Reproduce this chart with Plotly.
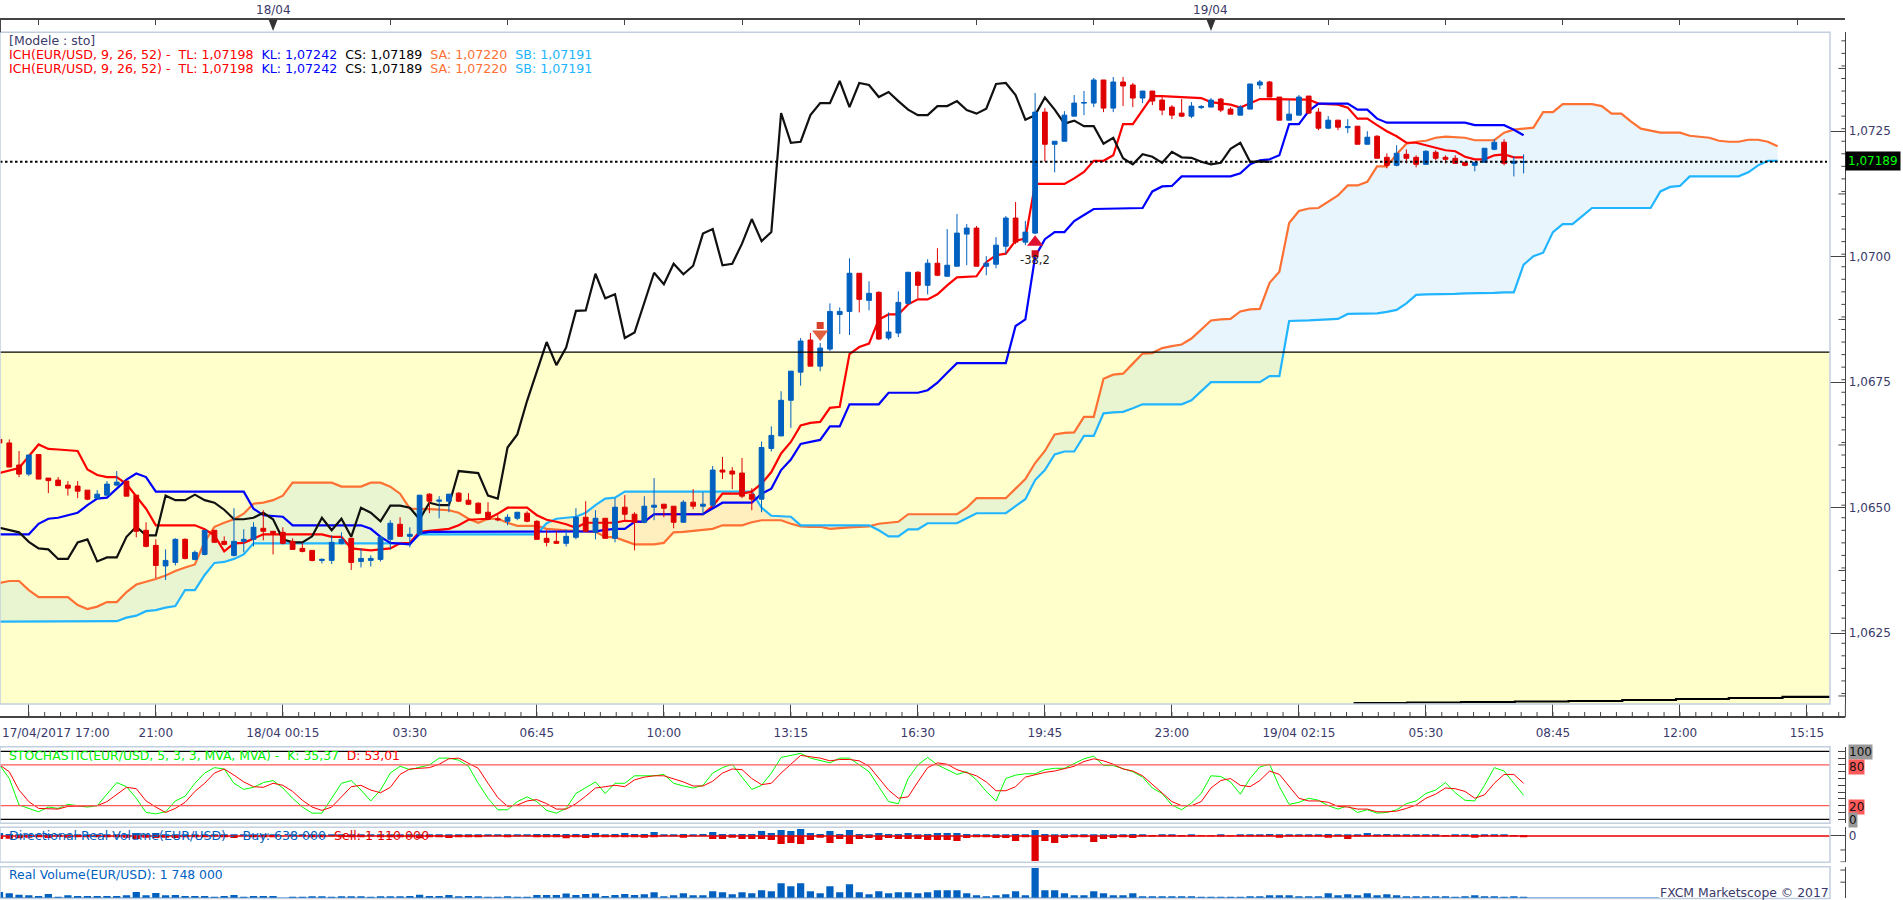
import plotly.graph_objects as go

W, H = 1903.0, 900.0
NB = "\u00a0"

# Prices are kept as pips above 1.0600
BASE = 1.06
PIP = 0.0001

open_pips = [
63.6,62.9,58.5,56.7,60.6,55.9,55.5,54.5,54.3,53.5,
51.9,52.5,54.5,55.3,52.5,45.5,42.5,38.4,39.1,43.7,
39.7,40.7,45.5,43.3,40.5,43.3,43.7,45.9,45.3,45.1,
43.3,41.9,41.5,39.5,39.5,42.9,43.9,39.3,39.5,39.7,
43.7,46.7,44.3,44.7,52.7,51.3,51.3,52.9,51.5,50.9,
49.1,47.8,47.3,47.9,48.9,47.3,43.9,43.3,42.9,44.1,
48.1,45.1,47.9,43.9,50.1,48.7,47.1,50.1,50.7,50.3,
47.1,51.1,50.3,50.5,57.5,57.3,56.9,52.7,51.7,61.8,
64.3,71.4,77.0,83.4,78.2,81.6,88.5,89.1,96.7,91.3,
92.9,83.8,84.8,90.7,96.9,94.3,98.7,96.1,98.1,104.5,
105.7,98.1,98.5,102.1,107.7,102.9,104.7,128.8,122.4,123.0,
128.0,130.6,130.6,135.2,129.6,134.8,134.2,131.6,133.0,131.2,
129.8,128.6,128.0,129.7,129.8,131.4,129.4,128.2,129.4,134.2,
134.8,131.8,127.2,128.2,132.0,128.8,125.6,127.2,125.7,126.0,
122.4,124.0,119.8,118.2,120.4,119.8,118.4,120.8,119.8,119.6,
118.8,118.2,118.8,121.4,122.8,118.6,118.8]
close_pips = [
62.9,58.1,56.7,60.5,55.7,55.4,54.4,53.9,53.3,51.7,
52.7,54.7,55.1,52.3,45.3,42.3,38.5,39.5,43.7,39.9,
41.1,45.5,43.1,42.7,43.3,43.7,46.1,45.3,44.9,42.9,
41.7,41.3,39.5,39.7,43.1,43.7,39.1,39.9,39.9,44.1,
46.9,44.3,44.7,52.5,51.3,51.5,52.7,51.3,50.7,48.9,
47.7,47.6,48.1,49.1,47.3,43.7,43.1,42.9,44.3,48.1,
45.3,47.9,43.9,50.1,48.7,47.1,50.3,50.5,49.9,47.1,
51.1,50.3,50.7,57.5,57.1,56.7,52.3,51.7,62.0,64.4,
71.4,77.2,83.2,78.2,81.8,89.1,89.1,96.7,91.5,92.7,
83.6,85.0,90.9,96.9,94.3,98.7,96.3,98.3,104.7,105.7,
98.1,98.7,102.3,107.7,102.9,104.9,128.8,122.4,123.0,128.2,
130.6,130.7,135.2,129.6,134.8,134.0,131.6,133.0,131.0,129.2,
128.2,128.0,130.0,129.9,131.2,129.2,128.4,129.8,134.4,134.8,
131.8,127.2,128.4,131.8,128.6,125.6,127.2,125.8,125.9,122.4,
123.8,119.6,118.2,120.6,119.6,118.4,121.0,119.6,119.4,118.6,
118.2,118.8,121.6,122.8,118.6,119.0,118.9]
high_pips = [
63.6,63.6,61.3,60.5,60.6,55.9,56.1,55.3,55.3,53.5,
53.5,55.3,57.3,55.3,52.5,47.1,43.7,41.7,43.9,43.9,
41.5,45.5,45.5,44.3,49.9,45.7,47.1,49.5,45.3,46.1,
43.9,42.9,41.5,39.9,44.5,45.1,43.9,41.9,40.5,44.5,
47.5,48.1,46.1,52.5,52.9,52.3,52.7,53.1,52.9,51.1,
51.1,48.5,48.7,49.1,49.3,47.5,45.5,45.3,45.7,49.9,
51.3,49.5,47.9,51.9,52.5,49.1,52.3,55.9,50.7,50.3,
51.5,53.7,53.1,58.3,60.1,58.1,59.9,53.9,63.2,66.2,
73.2,77.2,83.8,84.8,82.8,90.7,89.9,99.7,96.7,95.1,
93.1,88.9,93.1,96.9,97.1,99.5,101.7,105.5,108.5,106.5,
106.1,100.1,103.9,108.1,110.9,107.1,132.6,129.6,123.0,129.0,
132.2,133.0,135.6,135.2,135.8,135.8,134.6,133.0,133.0,131.8,
130.2,131.4,130.8,130.2,131.6,131.6,129.8,130.2,134.4,135.2,
135.0,131.8,131.2,132.2,132.0,129.6,128.0,127.2,127.4,126.0,
125.0,124.2,120.6,122.2,121.4,120.2,121.2,121.2,120.2,120.2,
118.8,118.8,121.6,123.4,123.4,120.0,120.4]
low_pips = [
62.9,58.1,56.1,56.3,55.7,52.9,54.3,52.4,51.9,51.5,
51.7,52.3,54.3,52.3,44.1,42.1,36.0,35.6,38.5,39.7,
39.5,40.5,43.1,42.5,40.3,41.1,42.3,43.5,40.7,42.7,
41.7,41.1,39.3,38.9,38.8,42.7,37.6,38.1,38.3,39.3,
41.7,44.3,42.1,44.5,48.9,47.9,49.1,51.1,50.5,48.7,
47.5,47.3,46.5,47.5,47.1,43.7,42.3,42.9,42.3,43.7,
45.3,43.7,43.9,43.1,47.5,41.5,46.9,47.5,48.1,45.9,
47.1,49.7,48.5,50.1,55.7,53.7,51.9,49.5,49.1,61.2,
64.3,65.9,74.3,78.2,77.2,81.2,84.6,84.4,88.9,89.3,
83.4,83.4,84.0,90.5,91.7,92.5,96.1,96.1,98.1,98.3,
98.1,96.3,97.7,100.5,102.5,102.3,104.5,119.0,116.8,123.0,
128.0,128.2,129.8,128.8,128.8,130.0,129.8,130.6,130.2,128.2,
127.4,127.8,127.6,129.4,129.8,128.8,128.4,128.2,129.4,133.4,
131.8,127.2,127.2,128.2,128.4,125.2,125.4,125.2,124.6,122.4,
122.4,119.6,117.6,118.0,118.6,117.8,118.4,119.2,118.6,118.6,
118.0,117.0,118.8,121.2,118.2,116.0,116.6]

tenkan_x = [0,2,4,5,6,8,9,10,11,12,13,14,15,16,20,21,22,23,24,25,26,27,33,34,35,36,38,40,41,42,43,45,46,47,48,50,51,52,54,55,56,57,58,59,60,63,64,66,67,72,73,74,76,77,78,79,80,81,82,83,84,85,86,87,88,89,90,91,92,93,94,95,96,97,98,100,101,102,103,104,105,106,109,110,111,112,113,114,115,116,117,118,119,122,123,124,126,127,128,129,134,135,137,138,139,140,141,142,143,144,145,146,147,148,149,150,151,152,153,154,155,156]
tenkan_pips = [56.9,57.9,62.6,61.7,61.6,61.3,57.6,56.5,56.1,56.1,54.7,52.3,49.8,46.5,46.5,45.7,44.5,41.3,42.9,43.0,43.9,44.7,44.7,44.2,44.2,41.9,41.5,41.9,42.9,43.0,45.2,45.5,45.8,46.5,47.6,47.8,48.8,50.0,50.0,48.5,47.6,47.2,46.7,46.0,47.0,47.0,47.4,47.2,48.7,48.7,50.3,52.8,52.8,53.2,54.8,57.1,60.8,63.1,66.4,66.9,67.1,69.9,70.1,80.6,82.0,82.7,87.5,88.5,88.5,90.5,91.5,91.5,92.5,94.3,95.9,96.1,98.9,100.3,100.6,103.2,103.6,114.5,114.5,115.6,116.9,119.1,119.1,120.2,126.4,126.4,129.3,132.0,132.0,131.8,131.6,130.8,130.3,129.7,130.5,131.4,131.3,130.5,130.3,129.7,127.5,127.5,126.2,125.0,124.0,122.7,122.7,122.2,121.7,121.2,121.0,119.9,119.4,119.4,120.2,120.4,119.8,119.8]

kijun_x = [0,3,4,5,6,8,9,10,11,12,13,14,15,16,25,26,27,29,30,37,38,39,40,42,43,44,58,61,62,63,64,65,66,67,72,73,74,77,78,79,80,81,82,83,84,85,86,87,90,91,94,95,96,97,98,103,104,105,106,107,108,109,110,111,112,117,118,119,120,121,126,127,128,129,130,131,132,133,134,135,138,139,140,141,142,150,151,154,155,156]
kijun_pips = [44.7,44.7,46.8,47.8,48.0,49.0,50.5,51.8,52.0,53.8,55.6,56.8,56.1,53.2,53.2,49.8,48.5,48.2,46.5,46.5,45.8,44.2,43.0,42.7,44.9,45.2,45.3,45.3,45.6,45.8,45.8,47.2,47.2,48.7,48.7,49.8,51.0,51.0,52.8,53.8,57.5,59.6,62.7,63.1,63.5,66.2,66.2,70.6,70.6,72.9,72.9,73.4,74.9,76.9,78.8,78.8,86.2,87.5,100.0,103.5,104.9,104.9,107.1,108.3,109.5,109.7,113.0,114.0,114.1,116.0,116.0,116.6,118.4,119.2,119.4,120.2,126.4,126.4,129.0,130.5,130.5,129.3,129.3,127.5,126.7,126.7,126.2,126.2,125.3,124.2]

chikou_pips = [
46.0,45.5,45.1,43.2,41.9,41.7,39.8,39.8,43.1,43.7,
39.3,40.1,40.1,44.2,46.2,44.5,44.5,52.4,51.5,51.5,
52.6,51.5,51.0,49.6,47.7,47.7,48.0,49.0,47.7,43.7,
43.1,43.1,44.3,48.0,45.5,47.8,44.2,50.0,49.0,47.3,
50.4,50.4,50.0,47.7,51.0,50.5,50.5,57.3,57.1,56.9,
52.4,51.8,62.0,64.6,71.3,77.0,83.0,78.4,81.9,89.2,
89.3,96.6,91.7,92.5,83.8,84.9,91.0,96.8,94.5,98.6,
96.5,98.2,104.6,105.5,98.3,98.6,102.6,107.5,103.1,104.9,
128.6,122.7,122.9,128.2,130.6,130.6,135.0,129.8,134.6,134.2,
131.8,132.8,131.0,129.3,128.2,128.2,130.0,130.0,131.0,129.2,
128.5,129.5,134.4,134.6,132.2,127.3,128.2,131.7,129.3,126.5,
127.1,126.0,126.0,122.5,123.7,119.6,118.4,120.4,119.9,118.7,
120.9,119.8,119.7,118.9,118.4,118.7,121.5,122.7,118.9,119.0,118.9]

span_a_pips = [
35.0,35.4,35.4,33.6,32.2,32.2,32.2,32.2,30.6,29.8,
30.3,31.2,31.2,33.2,34.7,35.2,35.8,36.5,37.4,38.1,
38.7,43.2,46.2,47.0,47.7,48.8,50.8,51.0,51.5,52.4,
55.0,55.0,55.0,55.0,55.0,54.2,54.2,54.2,55.0,55.0,
54.2,52.8,49.8,49.8,49.7,49.6,49.5,49.0,47.8,47.0,
47.8,47.8,47.0,46.4,46.4,46.4,45.8,45.6,45.5,45.4,
45.3,45.2,44.2,44.1,43.4,42.7,42.7,42.7,43.0,45.1,
45.2,45.4,45.6,45.8,46.5,46.5,46.5,47.1,47.5,47.5,
47.5,46.8,46.3,46.2,46.2,45.8,46.0,46.1,46.2,46.3,
46.8,47.0,47.2,48.7,48.7,48.7,48.7,48.7,48.7,50.0,
51.9,51.9,51.9,51.9,53.8,55.7,58.9,61.3,64.6,64.9,
65.0,68.1,68.1,75.7,76.5,76.7,78.7,80.7,80.8,81.8,
82.2,82.5,83.7,85.5,87.3,87.5,87.6,89.1,89.5,89.6,
94.8,97.0,106.7,109.1,109.6,109.7,110.9,112.2,114.2,114.2,
114.9,118.0,118.0,120.4,122.5,122.9,123.1,123.7,123.9,123.8,
123.7,123.2,123.2,123.2,124.7,125.3,125.5,125.7,128.8,128.8,
130.4,130.4,130.4,130.4,130.0,128.5,128.5,126.9,125.5,125.1,
124.7,124.7,124.7,124.1,123.9,123.7,123.1,122.9,122.9,123.3,
123.3,122.9,122.0]
span_b_pips = [
27.3,27.3,27.3,27.3,27.3,27.3,27.3,27.3,27.3,27.3,
27.3,27.3,27.4,28.1,28.5,29.4,29.6,30.1,30.4,33.6,
33.6,36.6,39.0,39.2,39.8,40.7,42.9,42.9,42.9,42.9,
42.9,42.9,42.9,42.9,42.9,42.9,42.9,42.9,42.9,42.9,
42.9,42.9,42.9,44.7,44.7,44.7,44.7,44.7,44.7,44.7,
44.7,44.7,44.7,44.7,44.7,44.7,46.9,47.8,48.0,48.2,
49.0,50.5,51.8,52.0,53.2,53.2,53.2,53.2,53.2,53.2,
53.2,53.2,53.2,53.2,53.2,53.2,53.2,53.2,50.0,48.4,
48.3,48.2,46.5,46.5,46.5,46.5,46.5,46.5,46.5,46.5,
45.5,44.3,44.3,45.7,45.7,46.9,46.9,46.9,46.9,47.9,
48.9,48.9,48.9,48.9,50.3,51.7,55.5,57.5,60.6,61.2,
61.2,64.3,64.3,68.8,69.0,69.1,69.8,70.6,70.6,70.6,
70.6,70.6,71.4,73.2,75.0,75.0,75.0,75.0,75.0,75.0,
76.2,76.2,87.2,87.2,87.3,87.4,87.5,87.6,88.6,88.6,
88.7,88.7,89.0,89.4,90.7,92.4,92.5,92.5,92.6,92.6,
92.7,92.7,92.8,92.8,92.9,92.9,98.4,100.1,100.8,104.9,
106.5,106.5,108.1,109.7,109.7,109.7,109.7,109.7,109.7,109.7,
113.0,113.9,114.1,116.0,116.0,116.0,116.0,116.0,116.0,116.8,
118.2,119.1,119.1]

trend_x = [138.6,144.1,149.6,155.1,160.6,166.1,171.6,177.0,182.5,187.4]
trend_pips = [11.1,11.2,11.3,11.4,11.5,11.7,11.9,12.1,12.3,12.5]

level_price = 1.07189
yellow_top = 1.0681

stoch_k = [
80,60,21,16,11,18,16,22,20,18,20,37,54,48,31,10,8,11,27,34,53,68,76,74,53,44,47,54,57,46,
31,18,9,9,31,53,57,43,27,43,68,78,73,76,80,90,90,87,78,53,31,14,14,26,33,26,13,9,16,38,
46,55,38,53,53,64,
64,64,66,53,49,46,50,68,76,81,62,44,50,68,91,94,97,90,86,83,90,90,80,70,48,26,23,60,80,91,
80,73,66,70,58,41,27,60,65,67,67,73,75,75,82,89,93,79,79,74,70,62,46,38,21,14,24,38,64,63,
55,37,60,77,81,
48,22,25,31,28,20,15,20,10,14,9,10,14,23,27,38,43,54,39,28,27,50,76,71,53,35.37]
stoch_d = [
80,70,43,26,16,15,15,19,19,20,20,26,37,47,45,27,18,10,16,25,41,53,68,74,65,55,48,47,53,50,
41,28,18,13,18,33,48,50,43,39,47,66,74,75,76,81,89,90,83,75,53,32,19,21,27,29,23,15,15,23,
34,46,48,50,48,58,
62,64,64,60,55,49,49,56,68,74,73,60,51,53,68,81,94,92,90,86,88,88,86,78,60,43,31,33,55,76,
83,81,73,69,64,55,42,42,48,62,66,69,71,74,78,85,89,86,81,74,71,64,51,39,26,20,20,26,46,57,
60,50,48,57,71,
66,48,31,27,27,25,19,18,15,15,11,11,12,16,21,31,37,46,45,41,31,36,53,66,66,53.01]

# Volumes are in lots of 500 000
buy_lots = [
9,6,3,3,3,6,3,3,3,3,3,3,3,3,9,3,9,3,3,3,3,3,3,3,3,3,3,3,3,0,3,3,3,3,3,3,3,3,3,3,
3,3,3,3,3,3,3,3,3,3,3,3,3,3,3,6,6,6,6,6,6,9,3,6,9,6,
6,12,3,3,6,3,6,12,6,3,6,6,15,9,18,15,21,9,6,15,6,18,6,3,9,6,6,9,3,6,
9,9,9,6,3,3,3,3,6,3,18,6,3,3,3,3,3,3,3,3,6,3,1,3,3,1,3,0,0,3,0,3,3,3,6,3,
3,3,3,3,6,3,3,3,9,3,6,3,3,3,3,3,1,3,3,3,3,3,3,1,1.276]
sell_lots = [
9,8,7,5,3,6,1,5,3,3,3,3,3,5,9,5,6,5,6,3,3,3,0,3,6,0,3,3,3,0,0,0,2,2,0,2,2,2,0,2,
2,2,3,7,3,3,6,2,3,2,0,0,2,0,0,3,3,3,7,3,6,4,3,3,3,3,
5,2,0,0,5,0,0,9,9,5,9,9,9,12,24,21,24,12,5,21,9,24,9,6,12,6,9,9,9,12,
12,12,15,6,3,3,6,6,15,3,75,15,21,6,3,3,18,9,6,3,6,1,1,1,1,1,1,1,1,1,1,1,1,1,1,5,
1,1,1,1,5,1,9,1,1,1,1,1,1,1,1,1,1,1,1,5,1,1,1,1,2.22]
volume_lots = [
18,14,10,8,6,12,4,8,6,6,6,6,6,8,18,8,15,8,9,6,6,6,3,6,9,3,6,6,6,0,3,3,5,5,3,5,5,5,3,5,
5,5,6,10,6,6,9,5,6,5,3,3,5,3,3,9,9,9,13,9,12,13,6,9,12,9,
11,17,5,8,14,8,8,20,17,11,17,14,23,20,44,35,44,20,14,35,17,41,17,11,20,14,17,17,14,17,
23,23,23,14,8,5,8,11,20,8,89,23,23,14,8,8,20,14,8,8,14,5,5,5,5,5,5,3,3,3,3,3,5,5,8,
8,8,5,5,5,14,8,11,8,14,8,11,8,5,5,5,5,5,3,5,8,5,5,3,5,3.5]

tick_x = [16,29,42,55,68,81,94,107,120,133,146,159,172,185]
tick_labels = ["21:00","18/04 00:15","03:30","06:45","10:00","13:15","16:30","19:45",
               "23:00","19/04 02:15","05:30","08:45","12:00","15:15"]
date_x = [28,124]
date_labels = ["18/04","19/04"]
price_ticks = [1.0625,1.065,1.0675,1.07,1.0725]

BLUE, RED = "#0060BF", "#DF0000"
TXT = "#3A3A6A"
BORDER = "#C2CFDF"
YELLOW = "#FFFFCC"

def px(a):
    return [round(BASE + v * PIP, 5) for v in a]

n = len(open_pips)
idx = list(range(n))
span_x = list(range(len(span_a_pips)))

# layout geometry in page pixels
X_PER_CANDLE = 9.77
R0 = 0.0512
PANEL_R = 1830.0
AXIS_R = 1845.4
R1 = R0 + PANEL_R / X_PER_CANDLE
R2 = R0 + AXIS_R / X_PER_CANDLE
def dom(top, bottom):
    return [1 - bottom / H, 1 - top / H]
def fx(v):
    return v / W
def fy(v):
    return 1 - v / H

MAIN_RANGE = [1.06109, 1.07447]
MAIN_DOM = dom(32.3, 704)
STOCH_DOM = dom(746.7, 823.3)
DIR_DOM = dom(827.3, 862.3)
VOL_DOM = dom(866.7, 898)
DIR_RANGE = [-79, 26]
VOL_RANGE = [0, 93]

fig = go.Figure()

def line(x, y, color, width=2.2, **kw):
    return go.Scatter(x=x, y=y, mode="lines", line=dict(color=color, width=width),
                      showlegend=False, hoverinfo="skip", **kw)

a_hi = [max(a, b) for a, b in zip(span_a_pips, span_b_pips)]
a_lo = [min(a, b) for a, b in zip(span_a_pips, span_b_pips)]
# cloud where span A is above span B
fig.add_trace(go.Scatter(x=span_x, y=px(span_b_pips), mode="lines", line=dict(width=0), showlegend=False, hoverinfo="skip"))
fig.add_trace(go.Scatter(x=span_x, y=px(a_hi), mode="lines", line=dict(width=0), fill="tonexty",
                         fillcolor="rgba(63,172,238,0.12)", showlegend=False, hoverinfo="skip"))
# cloud where span B is above span A
fig.add_trace(go.Scatter(x=span_x, y=px(span_b_pips), mode="lines", line=dict(width=0), showlegend=False, hoverinfo="skip"))
fig.add_trace(go.Scatter(x=span_x, y=px(a_lo), mode="lines", line=dict(width=0), fill="tonexty",
                         fillcolor="rgba(255,148,124,0.15)", showlegend=False, hoverinfo="skip"))

fig.add_trace(line(span_x, px(span_a_pips), "#FF7033"))
fig.add_trace(line(span_x, px(span_b_pips), "#22B5FF"))
fig.add_trace(line(tenkan_x, px(tenkan_pips), "#FF0000"))
fig.add_trace(line(kijun_x, px(kijun_pips), "#0000FF"))
fig.add_trace(line(idx[:len(chikou_pips)], px(chikou_pips), "#111111"))
fig.add_trace(go.Scatter(x=trend_x, y=px(trend_pips), mode="lines", line=dict(color="#000000", width=2.2, shape="hv"),
                         showlegend=False, hoverinfo="skip"))

# candles sit on an overlay pair of axes so they draw above the lines
fig.add_trace(go.Candlestick(
    x=idx, open=px(open_pips), high=px(high_pips), low=px(low_pips), close=px(close_pips),
    increasing=dict(line=dict(color=BLUE, width=1), fillcolor=BLUE),
    decreasing=dict(line=dict(color=RED, width=1), fillcolor=RED),
    whiskerwidth=0, showlegend=False, xaxis="x8", yaxis="y8"))

# trade signal arrows
fig.add_trace(go.Scatter(x=[84, 106], y=px([86.3, 100.6]), mode="markers",
                         marker=dict(symbol="square", size=7, color=["#D8402A", "#D01020"], line=dict(width=0)),
                         showlegend=False, hoverinfo="skip", xaxis="x8", yaxis="y8"))
fig.add_trace(go.Scatter(x=[84, 106], y=px([84.6, 102.9]), mode="markers",
                         marker=dict(symbol=["triangle-down", "triangle-up"], size=14, color=["#E06040", "#E01030"], line=dict(width=0)),
                         showlegend=False, hoverinfo="skip", xaxis="x8", yaxis="y8"))

# stochastic
fig.add_trace(line(idx, stoch_k, "#00FF00", 1, yaxis="y2"))
fig.add_trace(line(idx, stoch_d, "#FF0000", 1, yaxis="y2"))

# directional volume
fig.add_trace(go.Bar(x=idx, y=buy_lots, width=0.74, marker=dict(color=BLUE, line=dict(width=0)), yaxis="y3", showlegend=False, hoverinfo="skip"))
fig.add_trace(go.Bar(x=idx, y=[-v for v in sell_lots], width=0.74, marker=dict(color=RED, line=dict(width=0)), yaxis="y3", showlegend=False, hoverinfo="skip"))
# real volume
fig.add_trace(go.Bar(x=idx, y=volume_lots, width=0.74, marker=dict(color=BLUE, line=dict(width=0)), yaxis="y4", showlegend=False, hoverinfo="skip"))

# carriers for the tick-only axes
for xa, ya in (("x5", "y9"), ("x6", "y9"), ("x7", "y9")):
    fig.add_trace(go.Scatter(x=[None], y=[None], mode="lines", xaxis=xa, yaxis=ya, showlegend=False, hoverinfo="skip"))

shapes = []
TICK = "#444444"
def pline(x0, y0, x1, y1, color, width=1, layer="above", dash=None):
    shapes.append(dict(type="line", xref="paper", yref="paper", x0=fx(x0), x1=fx(x1), y0=fy(y0), y1=fy(y1),
                       line=dict(color=color, width=width, dash=dash), layer=layer))
def prect(x0, y0, x1, y1):
    shapes.append(dict(type="rect", xref="paper", yref="paper", x0=fx(x0), x1=fx(x1), y0=fy(y0), y1=fy(y1),
                       line=dict(color=BORDER, width=1.5), fillcolor="rgba(0,0,0,0)", layer="above"))
def hline(yref, val, color, width=1, dash=None, x1=PANEL_R, layer="above"):
    shapes.append(dict(type="line", xref="paper", yref=yref, x0=0, x1=fx(x1), y0=val, y1=val,
                       line=dict(color=color, width=width, dash=dash), layer=layer))
def ytick(yref, val, length):
    shapes.append(dict(type="line", xref="paper", yref=yref, x0=fx(AXIS_R - length), x1=fx(AXIS_R), y0=val, y1=val,
                       line=dict(color=TICK, width=1), layer="above"))

shapes.append(dict(type="rect", xref="paper", yref="y", x0=0, x1=fx(PANEL_R), y0=MAIN_RANGE[0], y1=yellow_top,
                   fillcolor=YELLOW, line=dict(width=0), layer="below"))
hline("y", yellow_top, "#000000", 1.3)
hline("y", level_price, "#000000", 2, dash="2.5px,2.5px", x1=1827)
hline("y2", 100, "#000000", 1.3)
hline("y2", 0, "#000000", 1.3)
hline("y2", 80, "#FF5A5A", 1.2)
hline("y2", 20, "#FF5A5A", 1.2)
hline("y3", 0, "#E80000", 1.6)
hline("y4", 0, BLUE, 1.2, x1=1659)
prect(0, 32.3, PANEL_R, 704)
prect(0, 746.7, PANEL_R, 823.3)
prect(0, 827.3, PANEL_R, 862.3)
prect(0, 866.7, PANEL_R, 898.5)
pline(0.5, 19.3, 0.5, 32.3, "#444444", 1)
pline(AXIS_R, 704, AXIS_R, 717.3, "#444444", 1)

# small axis ticks: time axis every 1/8 of a labelled step
for k in range(0, 116):
    xp = -0.5 + X_PER_CANDLE * (3 + 1.625 * k)
    if xp <= AXIS_R:
        pline(xp, 712, xp, 717.3, TICK, 1)
# small axis ticks: price axis
for k in range(0, 54):
    ytick("y", round(1.0613 + 0.00025 * k, 5), 4)
for v in (1.06125, 1.06375, 1.06625, 1.06875, 1.07125, 1.07375):
    ytick("y", v, 7)
ytick("y3", -42, 5)
ytick("y3", -78, 5)
ytick("y4", 47, 5)
ytick("y4", 83, 5)

for d in date_x:
    xp = -0.5 + X_PER_CANDLE * d
    shapes.append(dict(type="path", xref="paper", yref="paper",
                       path=f"M {fx(xp-4.5)} {fy(19.5)} L {fx(xp+4.5)} {fy(19.5)} L {fx(xp)} {fy(31)} Z",
                       fillcolor="#333333", line=dict(width=0), layer="above"))

ann = []
def note(x, y, text, color=TXT, anchor="left", size=12, bg=None, pad=0):
    ann.append(dict(xref="paper", yref="paper", x=fx(x), y=fy(y), text=text, showarrow=False,
                    xanchor=anchor, yanchor="middle", align="left",
                    font=dict(color=color, size=size, family="DejaVu Sans"),
                    bgcolor=bg, borderpad=pad))
def sp(text, color):
    return f'<span style="color:{color}">{text.replace(" ", NB)}</span>'

ich = (sp("ICH(EUR/USD, 9, 26, 52) -  TL: 1,07198  ", "#FF0000") + sp("KL: 1,07242  ", "#0000FF")
       + sp("CS: 1,07189  ", "#000000") + sp("SA: 1,07220  ", "#FF7033") + sp("SB: 1,07191", "#22B5FF"))
note(8, 40.7, "[Modele : sto]", size=12.5)
note(8, 54.3, ich, size=12.6)
note(8, 68.3, ich, size=12.6)
for d, lab in zip(date_x, date_labels):
    note(-0.5 + X_PER_CANDLE * d, 9.7, lab, anchor="center")
note(1.2, 732.7, "17/04/2017 17:00")
note(8, 755, sp("STOCHASTIC(EUR/USD, 5, 3, 3, MVA, MVA) -  K: 35,37  ", "#00F000") + sp("D: 53,01", "#FF0000"), size=12.4)
note(8, 835.5, sp("Directional Real Volume(EUR/USD) -  Buy: 638 000  ", BLUE) + sp("Sell: 1 110 000", "#E00000"), size=12.6)
note(8, 874.3, "Real Volume(EUR/USD): 1 748 000", color=BLUE, size=12.4)
note(1830, 892, "FXCM Marketscope © 2017", anchor="right", size=12.4)
note(-0.5 + X_PER_CANDLE * 106, 259.5, "-38,2", color="#222222", anchor="center", size=11.5)
note(1873, 161, "1,07189", color="#00FF00", anchor="center", bg="#000000", pad=2)
note(1848, 752, "100", color="#111111", bg="#999999")
note(1848, 767, "80", color="#111111", bg="#FF5A5A")
note(1848, 807, "20", color="#111111", bg="#FF5A5A")
note(1848, 820, "0", color="#111111", bg="#999999")

fig.update_layout(
    width=W, height=H, margin=dict(l=0, r=0, t=0, b=0), autosize=False,
    paper_bgcolor="white", plot_bgcolor="rgba(0,0,0,0)", showlegend=False,
    font=dict(family="DejaVu Sans", size=12, color=TXT), barmode="overlay",
    separators=", ", shapes=shapes, annotations=ann, dragmode=False,
    xaxis=dict(domain=[0, fx(PANEL_R)], range=[R0, R1], visible=False, anchor="y"),
    xaxis8=dict(overlaying="x", range=[R0, R1], visible=False, anchor="y8", rangeslider=dict(visible=False)),
    xaxis5=dict(domain=[0, fx(AXIS_R)], range=[R0, R2], anchor="free", position=fy(717.3), side="top",
                showgrid=False, zeroline=False, showticklabels=False, showline=True, linecolor=TICK, linewidth=1.5,
                tickmode="linear", tick0=3, dtick=13, ticks="outside", ticklen=13, tickcolor=TICK, tickwidth=1),
    xaxis6=dict(domain=[0, fx(PANEL_R)], range=[R0, R1], anchor="free", position=fy(723.5), side="bottom",
                showgrid=False, zeroline=False, showline=False, ticks="", tickmode="array",
                tickvals=tick_x, ticktext=tick_labels, tickfont=dict(size=12, color=TXT)),
    xaxis7=dict(domain=[0, fx(AXIS_R)], range=[R0, R2], anchor="free", position=fy(19.3), side="bottom",
                showgrid=False, zeroline=False, showticklabels=False, showline=True, linecolor=TICK, linewidth=1.5,
                tickmode="linear", tick0=4, dtick=12, ticks="outside", ticklen=4.5, tickcolor=TICK, tickwidth=1),
    yaxis=dict(domain=MAIN_DOM, range=MAIN_RANGE, anchor="free", position=fx(AXIS_R), side="right",
               showgrid=False, zeroline=False, showline=True, linecolor=TICK, linewidth=1,
               tickmode="array", tickvals=price_ticks, tickformat=".4f", ticks="inside", ticklen=15,
               tickcolor=TICK, tickwidth=1, tickfont=dict(size=12, color=TXT)),
    yaxis8=dict(overlaying="y", range=MAIN_RANGE, visible=False, anchor="x8"),
    yaxis9=dict(domain=[0, 1], range=[0, 1], visible=False, anchor="x5"),
    yaxis2=dict(domain=STOCH_DOM, range=[-5.9, 106.8], anchor="free", position=fx(AXIS_R), side="right",
                showgrid=False, zeroline=False, showline=True, linecolor=TICK, showticklabels=False,
                tickmode="linear", tick0=0, dtick=10, ticks="inside", ticklen=7, tickcolor=TICK, tickwidth=1),
    yaxis3=dict(domain=DIR_DOM, range=DIR_RANGE, anchor="free", position=fx(AXIS_R), side="right",
                showgrid=False, zeroline=False, showline=True, linecolor=TICK,
                tickmode="array", tickvals=[0], ticktext=["0"], ticks="inside", ticklen=15, tickcolor=TICK,
                tickfont=dict(size=12, color=TXT)),
    yaxis4=dict(domain=VOL_DOM, range=VOL_RANGE, anchor="free", position=fx(AXIS_R), side="right",
                showgrid=False, zeroline=False, showline=True, linecolor=TICK,
                tickmode="array", tickvals=[0], ticktext=["0"], ticks="inside", ticklen=11, tickcolor=TICK,
                tickfont=dict(size=12, color=TXT)),
)

fig.write_html("out.html", config=dict(displayModeBar=False),
               post_script="document.body.style.margin='0';document.body.style.overflow='hidden';")
